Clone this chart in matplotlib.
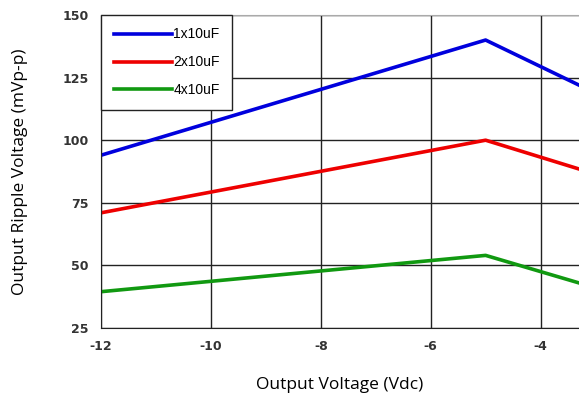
import matplotlib
matplotlib.use('Agg')
import matplotlib.pyplot as plt

plt.rcParams['axes.unicode_minus'] = False

x_vals = [-12, -5, -3.3]
ripple_1x = [94, 140, 122]
ripple_2x = [71, 100, 88.5]
ripple_4x = [39.5, 54, 43]
labels = ['1x10uF', '2x10uF', '4x10uF']
colors = ['#0000dd', '#ee0000', '#119911']

fig = plt.figure(figsize=(5.79, 3.96), dpi=100)
ax = fig.add_axes([101 / 579, 68 / 396, 1 - 101 / 579, 313 / 396])

for ys, lab, c in zip([ripple_1x, ripple_2x, ripple_4x], labels, colors):
    ax.plot(x_vals, ys, color=c, linewidth=2.6, label=lab)

ax.set_xlim(-12, -3.3)
ax.set_ylim(25, 150)
ax.set_xticks([-12, -10, -8, -6, -4])
ax.set_yticks([25, 50, 75, 100, 125, 150])
ax.grid(True, color='#222222', linewidth=1)
ax.set_axisbelow(True)
ax.tick_params(length=0, pad=9)
for lbl in ax.get_xticklabels() + ax.get_yticklabels():
    lbl.set_fontfamily('DejaVu Sans')
    lbl.set_fontweight('bold')
    lbl.set_fontsize(9)
    lbl.set_color('#333333')

ax.spines['top'].set_color('#aaaaaa')
ax.spines['right'].set_visible(False)
ax.spines['left'].set_color('#222222')
ax.spines['bottom'].set_color('#222222')

ax.set_xlabel('Output Voltage (Vdc)', fontfamily='Open Sans', fontsize=12.5, labelpad=17)
ax.set_ylabel('Output Ripple Voltage (mVp-p)', fontfamily='Open Sans', fontsize=12.5, labelpad=25)

leg = ax.legend(loc='upper left', bbox_to_anchor=(0, 1), borderaxespad=0,
                fancybox=False, framealpha=1, edgecolor='#222222',
                prop={'family': 'Liberation Sans', 'size': 10},
                handlelength=4.2, handletextpad=0.1, labelspacing=1.0,
                borderpad=0.9)
leg.get_frame().set_linewidth(1)

fig.savefig('out.png', dpi=100)
